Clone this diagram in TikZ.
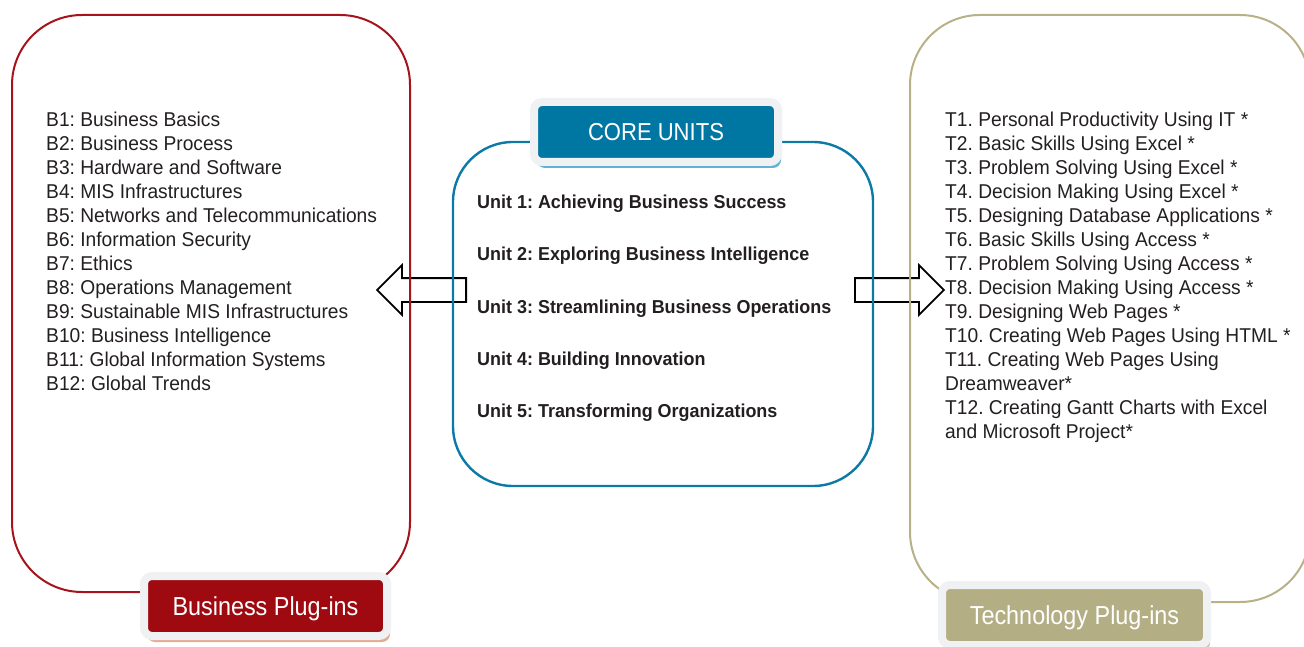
\documentclass[tikz,border=0pt]{standalone}
\usepackage{fontspec}
\setmainfont[FakeStretch=0.96]{Liberation Sans}
\newfontfamily\tagfont[FakeStretch=0.9]{Liberation Sans}
\frenchspacing
\usetikzlibrary{shapes.arrows,shadows,positioning}

\definecolor{bizred}{RGB}{158,10,16}
\definecolor{bizline}{RGB}{165,20,28}
\definecolor{bizshade}{RGB}{230,168,148}
\definecolor{coreblue}{RGB}{0,119,162}
\definecolor{coreline}{RGB}{12,122,166}
\definecolor{coreshade}{RGB}{96,178,214}
\definecolor{techkhaki}{RGB}{180,174,133}
\definecolor{techline}{RGB}{184,177,135}
\definecolor{techshade}{RGB}{205,200,170}
\definecolor{tagframe}{RGB}{240,241,243}
\definecolor{ink}{RGB}{35,31,32}

\begin{document}
\begin{tikzpicture}[x=1pt,y=-1pt,
  box/.style={rectangle,draw,line width=2pt,rounded corners=70pt,inner sep=0},
  tag/.style={rectangle,draw=tagframe,line width=8pt,rounded corners=8pt,
    text=white,font=\tagfont\fontsize{26}{30}\selectfont,
    text height=18.6pt,text depth=0pt,
    minimum height=60pt,inner sep=0},
  plist/.style={anchor=north west,align=left,inner sep=0,text=ink,
    font=\fontsize{20}{24}\selectfont},
  unit/.style={anchor=west,inner sep=0,text=ink,text height=14pt,text depth=4pt,
    font=\bfseries\fontsize{18.7}{22}\selectfont},
  fatarrow/.style={single arrow,draw=black,fill=white,line width=1.8pt,
    single arrow head extend=13pt,single arrow head indent=0pt,
    minimum height=89pt,inner xsep=0,inner ysep=11pt,
    text height=0pt,text depth=0pt,anchor=tail}]
  \useasboundingbox (0,0) rectangle (1304,647);

  % block arrows sit under the box outlines
  \node [fatarrow,shape border rotate=180] (toBiz) at (467,290) {};
  \node [fatarrow] (toTech) at (854,290) {};

  % the three rounded frames
  \node [box,draw=bizline,minimum width=398pt,minimum height=577pt] (biz) at (211,303.5) {};
  \node [box,draw=coreline,line width=2.4pt,rounded corners=60pt,
         minimum width=420pt,minimum height=344pt] (core) at (663,314) {};
  \node [box,draw=techline,minimum width=400pt,minimum height=587pt] (tech) at (1110,308.5) {};

  % title tags
  \node [tag,fill=coreblue,minimum width=244pt,font=\tagfont\fontsize{24.5}{28}\selectfont,
         text height=17.5pt,
         drop shadow={shadow xshift=3pt,shadow yshift=-6pt,fill=coreshade,opacity=1}]
         (coreTag) at (656,132) {CORE UNITS};
  \node [tag,fill=bizred,minimum width=243pt,
         drop shadow={shadow xshift=3pt,shadow yshift=-6pt,fill=bizshade,opacity=1}]
         (bizTag) at (265.5,606) {Business Plug-ins};
  \node [tag,fill=techkhaki,minimum width=265pt,
         drop shadow={shadow xshift=3pt,shadow yshift=-6pt,fill=techshade,opacity=1}]
         (techTag) at (1074.5,615) {Technology Plug-ins};

  % core units
  \node [unit] (u1) at (477,204) {Unit 1: Achieving Business Success};
  \node [unit] (u2) at ([yshift=-52pt]u1.west) {Unit 2: Exploring Business Intelligence};
  \node [unit] (u3) at ([yshift=-52pt]u2.west) {Unit 3: Streamlining Business Operations};
  \node [unit] (u4) at ([yshift=-52pt]u3.west) {Unit 4: Building Innovation};
  \node [unit] (u5) at ([yshift=-52pt]u4.west) {Unit 5: Transforming Organizations};

  % business plug-ins
  \node [plist] (bizList) at (46,111.5) {B1: Business Basics\\
    B2: Business Process\\
    B3: Hardware and Software\\
    B4: MIS Infrastructures\\
    B5: Networks and Telecommunications\\
    B6: Information Security\\
    B7: Ethics\\
    B8: Operations Management\\
    B9: Sustainable MIS Infrastructures\\
    B10: Business Intelligence\\
    B11: Global Information Systems\\
    B12: Global Trends};

  % technology plug-ins
  \node [plist] (techList) at (945,111.5) {T1. Personal Productivity Using IT *\\
    T2. Basic Skills Using Excel *\\
    T3. Problem Solving Using Excel *\\
    T4. Decision Making Using Excel *\\
    T5. Designing Database Applications *\\
    T6. Basic Skills Using Access *\\
    T7. Problem Solving Using Access *\\
    T8. Decision Making Using Access *\\
    T9. Designing Web Pages *\\
    T10. Creating Web Pages Using HTML *\\
    T11. Creating Web Pages Using\\
    Dreamweaver*\\
    T12. Creating Gantt Charts with Excel\\
    and Microsoft Project*};
\end{tikzpicture}
\end{document}
